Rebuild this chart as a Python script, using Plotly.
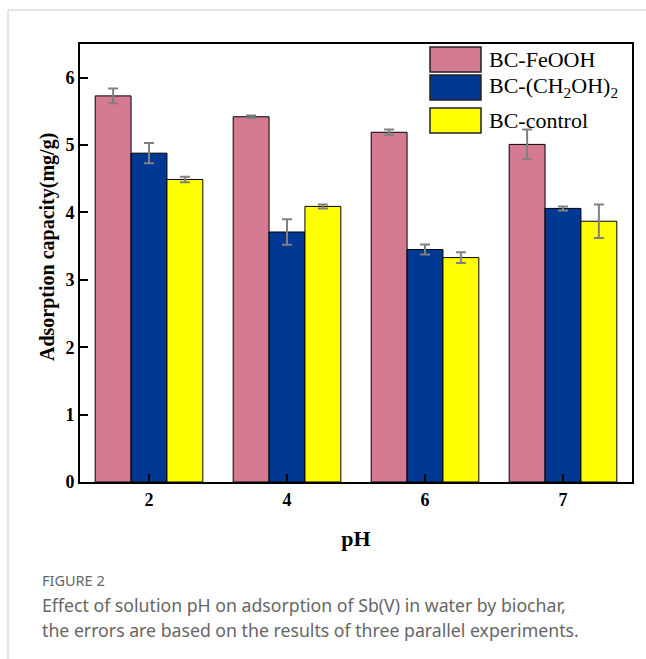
import plotly.graph_objects as go

categories = ["2", "4", "6", "7"]
series_names = ["BC-FeOOH", "BC-(CH<sub>2</sub>OH)<sub>2</sub>", "BC-control"]
feooh = [5.73, 5.42, 5.19, 5.01]
feooh_err = [0.11, 0.02, 0.04, 0.22]
ch2oh = [4.88, 3.71, 3.45, 4.06]
ch2oh_err = [0.15, 0.19, 0.075, 0.03]
control = [4.49, 4.09, 3.33, 3.87]
control_err = [0.04, 0.03, 0.08, 0.25]
colors = ["#D47A91", "#003893", "#FFFF00"]
y_ticks = [0, 1, 2, 3, 4, 5, 6]

W, H = 646, 659
L, R, T, B = 80, 14, 44, 177
pw, ph = W - L - R, H - T - B

def px(x):
    return (x - L) / pw

def py(y):
    return (H - B - y) / ph

fig = go.Figure()
for name, vals, errs, col in zip(series_names, [feooh, ch2oh, control],
                                 [feooh_err, ch2oh_err, control_err], colors):
    fig.add_trace(go.Bar(
        x=categories, y=vals, name=name,
        marker=dict(color=col, line=dict(color="black", width=1)),
        error_y=dict(type="data", array=errs, visible=True,
                     color="#808080", thickness=2, width=5),
        showlegend=False,
    ))

serif = "Liberation Serif, Times New Roman, serif"
fig.update_layout(
    width=W, height=H,
    margin=dict(l=L, r=R, t=T, b=B),
    paper_bgcolor="white", plot_bgcolor="white",
    barmode="group", bargap=0.22, bargroupgap=0,
    font=dict(family=serif, color="black"),
    xaxis=dict(
        type="category", range=[-0.5, 3.5],
        showline=True, linecolor="black", linewidth=2, mirror=True,
        ticks="inside", ticklen=8, tickwidth=2, tickcolor="black",
        tickfont=dict(family=serif, size=18, color="black", weight="bold"),
        title=dict(text="<b>pH</b>", font=dict(family=serif, size=22), standoff=22),
        showgrid=False,
    ),
    yaxis=dict(
        range=[0, 6.5], tickvals=y_ticks,
        showline=True, linecolor="black", linewidth=2, mirror=True,
        ticks="inside", ticklen=8, tickwidth=2, tickcolor="black",
        tickfont=dict(family=serif, size=18, color="black", weight="bold"),
        showgrid=False, zeroline=False,
    ),
)

shapes = []
annotations = []
# y axis title
annotations.append(dict(xref="paper", yref="paper", x=px(47), y=py(247),
                        text="<b>Adsorption capacity(mg/g)</b>", textangle=-90,
                        showarrow=False, xanchor="center", yanchor="middle",
                        font=dict(family=serif, size=20, color="black")))
# legend patches
legend_rows = [(47, 72), (75, 100), (108, 133)]
for (y0, y1), col, name in zip(legend_rows, colors, series_names):
    shapes.append(dict(type="rect", xref="paper", yref="paper",
                       x0=px(430), x1=px(481), y0=py(y1), y1=py(y0),
                       fillcolor=col, line=dict(color="#222", width=1.5)))
    annotations.append(dict(xref="paper", yref="paper", x=px(487), y=py((y0 + y1) / 2),
                            text=name, showarrow=False, xanchor="left", yanchor="middle",
                            font=dict(family=serif, size=22, color="black")))

# card border
shapes.append(dict(type="line", xref="paper", yref="paper",
                   x0=px(8), x1=px(646), y0=py(10), y1=py(10),
                   line=dict(color="#DDDDDD", width=1.5)))
shapes.append(dict(type="line", xref="paper", yref="paper",
                   x0=px(8), x1=px(8), y0=py(10), y1=py(659),
                   line=dict(color="#DDDDDD", width=1.5)))

sans = "Noto Sans, Open Sans, sans-serif"
annotations.append(dict(xref="paper", yref="paper", x=px(40), y=py(580),
                        text="FIGURE 2", showarrow=False, xanchor="left", yanchor="middle",
                        font=dict(family=sans, size=14.5, color="#666666")))
annotations.append(dict(xref="paper", yref="paper", x=px(40), y=py(605),
                        text="Effect of solution pH on adsorption of Sb(V) in water by biochar,",
                        showarrow=False, xanchor="left", yanchor="middle",
                        font=dict(family=sans, size=17.7, color="#666666")))
annotations.append(dict(xref="paper", yref="paper", x=px(40), y=py(630),
                        text="the errors are based on the results of three parallel experiments.",
                        showarrow=False, xanchor="left", yanchor="middle",
                        font=dict(family=sans, size=17.7, color="#666666")))

fig.update_layout(shapes=shapes, annotations=annotations)
fig.write_html("out.html")
